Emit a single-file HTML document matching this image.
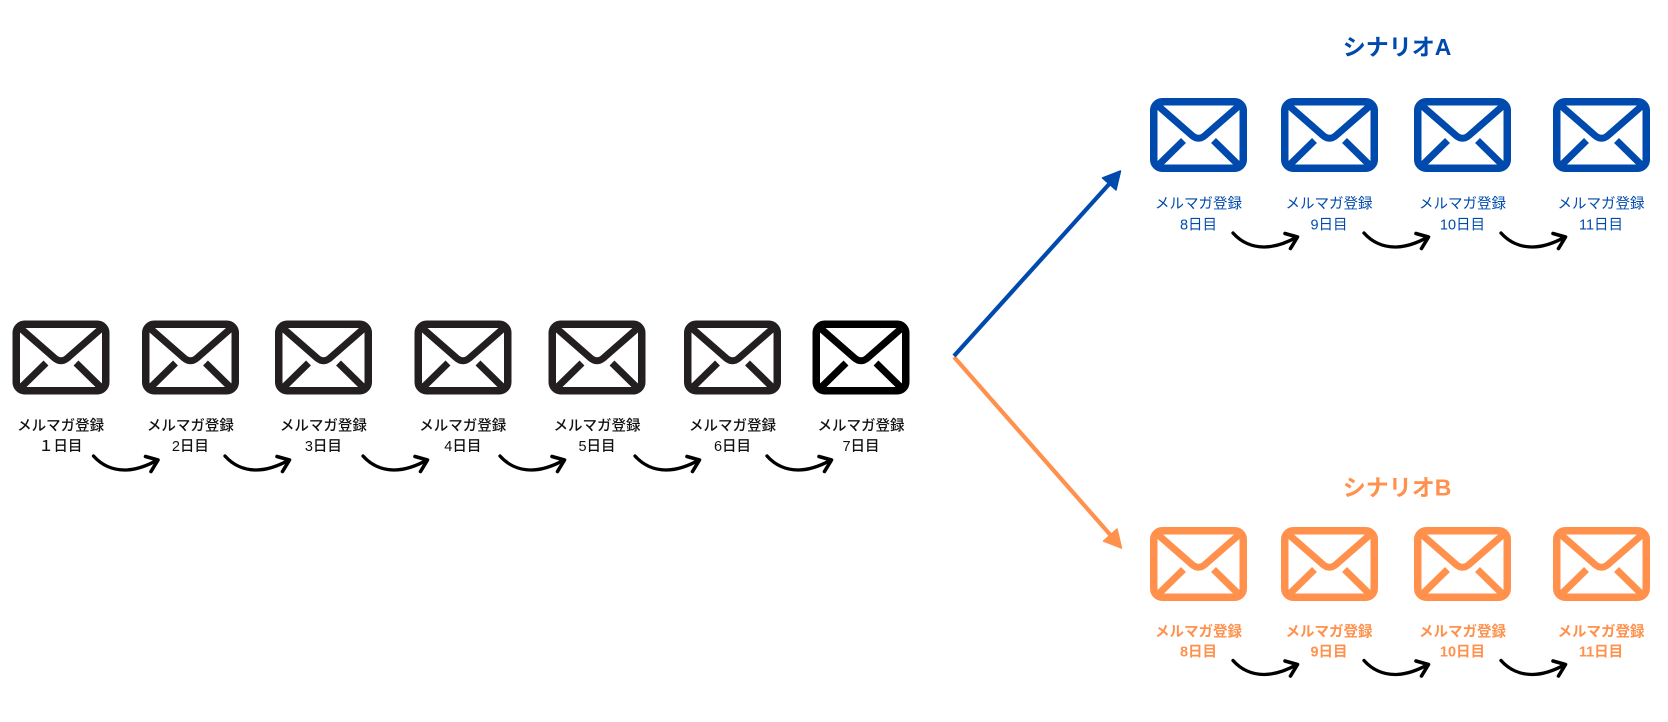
<!DOCTYPE html>
<html><head><meta charset="utf-8"><style>
html,body{margin:0;padding:0;background:#fff;}
svg{display:block;}
text{font-family:"Liberation Sans","Noto Sans CJK JP",sans-serif;}
</style></head><body>
<svg width="1668" height="722" viewBox="0 0 1668 722" xmlns="http://www.w3.org/2000/svg">
<defs>
<g id="env" fill="none" stroke="currentColor">
<rect x="3.75" y="3.75" width="89.5" height="66.5" rx="8.5" stroke-width="7.5"/>
<path d="M6,6 L42,37.5 Q48.5,43 55,37.5 L91,6" stroke-width="7" stroke-linejoin="round"/>
<path d="M8.5,67 L33.5,42.5 M63.5,42.5 L88.5,67" stroke-width="7"/>
</g>
<g id="arr" fill="none" stroke="#000" stroke-linecap="round" stroke-linejoin="round">
<path d="M0,0 C8,9 19,14 31,14 C43,14 55,9 64,4" stroke-width="3.3"/>
<path d="M52,0.5 L64.5,4 L57.5,15.5" stroke-width="3.6"/>
</g>
</defs>

<!-- main row envelopes -->
<use href="#env" x="12.5" y="320.5" style="color:#231f20"/>
<use href="#env" x="142" y="320.5" style="color:#231f20"/>
<use href="#env" x="275" y="320.5" style="color:#231f20"/>
<use href="#env" x="414.5" y="320.5" style="color:#231f20"/>
<use href="#env" x="548.5" y="320.5" style="color:#231f20"/>
<use href="#env" x="684" y="320.5" style="color:#231f20"/>
<use href="#env" x="812.5" y="320.5" style="color:#000"/>

<g font-size="14.5" font-weight="500" fill="#111" text-anchor="middle" dominant-baseline="central">
<text x="60.6" y="426.5">メルマガ登録</text><text x="60.6" y="447">１日目</text>
<text x="190.4" y="426.5">メルマガ登録</text><text x="190.4" y="447">2日目</text>
<text x="323.4" y="426.5">メルマガ登録</text><text x="323.4" y="447">3日目</text>
<text x="462.8" y="426.5">メルマガ登録</text><text x="462.8" y="447">4日目</text>
<text x="597" y="426.5">メルマガ登録</text><text x="597" y="447">5日目</text>
<text x="732.5" y="426.5">メルマガ登録</text><text x="732.5" y="447">6日目</text>
<text x="861" y="426.5">メルマガ登録</text><text x="861" y="447">7日目</text>
</g>

<use href="#arr" x="93.5" y="456"/>
<use href="#arr" x="225" y="456"/>
<use href="#arr" x="363" y="456"/>
<use href="#arr" x="500" y="456"/>
<use href="#arr" x="635" y="456"/>
<use href="#arr" x="767" y="456"/>

<!-- branch arrows -->
<line x1="954" y1="357" x2="1110.4" y2="535" stroke="#ff914d" stroke-width="4.2"/>
<polygon points="1121.5,548 1117,529 1103.5,541" fill="#ff914d" stroke="#ff914d" stroke-width="1.5" stroke-linejoin="round"/>
<line x1="954" y1="356" x2="1109.3" y2="183.9" stroke="#004aad" stroke-width="4.2"/>
<polygon points="1120.5,171 1116,190 1102.5,178" fill="#004aad" stroke="#004aad" stroke-width="1.5" stroke-linejoin="round"/>

<!-- Scenario A -->
<text x="1397" y="47" font-size="23" font-weight="700" fill="#004aad" text-anchor="middle" dominant-baseline="central">シナリオA</text>
<use href="#env" x="1150" y="98" style="color:#004aad"/>
<use href="#env" x="1281" y="98" style="color:#004aad"/>
<use href="#env" x="1414" y="98" style="color:#004aad"/>
<use href="#env" x="1553" y="98" style="color:#004aad"/>
<g font-size="14.5" font-weight="400" fill="#004aad" text-anchor="middle" dominant-baseline="central">
<text x="1198.5" y="204.5">メルマガ登録</text><text x="1198.5" y="225.5">8日目</text>
<text x="1329" y="204.5">メルマガ登録</text><text x="1329" y="225.5">9日目</text>
<text x="1462.5" y="204.5">メルマガ登録</text><text x="1462.5" y="225.5">10日目</text>
<text x="1601" y="204.5">メルマガ登録</text><text x="1601" y="225.5">11日目</text>
</g>
<use href="#arr" x="1233" y="233"/>
<use href="#arr" x="1364" y="233"/>
<use href="#arr" x="1501" y="233"/>

<!-- Scenario B -->
<text x="1397" y="487.5" font-size="23" font-weight="700" fill="#ff914d" text-anchor="middle" dominant-baseline="central">シナリオB</text>
<use href="#env" x="1150" y="527" style="color:#ff914d"/>
<use href="#env" x="1281" y="527" style="color:#ff914d"/>
<use href="#env" x="1414" y="527" style="color:#ff914d"/>
<use href="#env" x="1553" y="527" style="color:#ff914d"/>
<g font-size="14.5" font-weight="700" fill="#ff914d" text-anchor="middle" dominant-baseline="central">
<text x="1198.5" y="632.5">メルマガ登録</text><text x="1198.5" y="652.5">8日目</text>
<text x="1329" y="632.5">メルマガ登録</text><text x="1329" y="652.5">9日目</text>
<text x="1462.5" y="632.5">メルマガ登録</text><text x="1462.5" y="652.5">10日目</text>
<text x="1601" y="632.5">メルマガ登録</text><text x="1601" y="652.5">11日目</text>
</g>
<use href="#arr" x="1233" y="660.5"/>
<use href="#arr" x="1364" y="660.5"/>
<use href="#arr" x="1501" y="660.5"/>
</svg>
</body></html>
